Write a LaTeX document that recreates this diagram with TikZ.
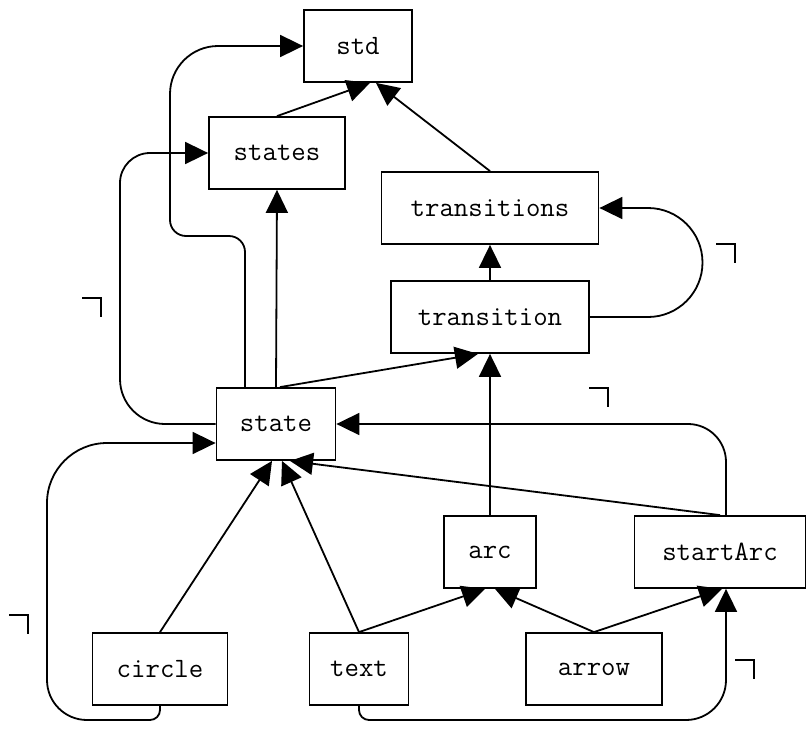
\documentclass[tikz,border=0pt]{standalone}
\usetikzlibrary{arrows.meta}

\tikzset{
  cls/.style={draw, line width=1.8pt, minimum height=72pt, inner sep=0pt,
    font=\ttfamily\fontsize{28}{32}\selectfont},
  dep/.style={line width=1.8pt, -{Triangle[length=23pt,width=22pt]}},
}
% little corner ticks left over from empty labels
\newcommand\notch[1]{\draw[line width=1.8pt] (#1) -- ++(19,0) -- ++(0,19);}

\begin{document}
\begin{tikzpicture}[x=1pt,y=-1pt]
  \useasboundingbox (0,0) rectangle (806,734);

  \node[cls, minimum width=108pt] (std)         at (358,46)  {std};
  \node[cls, minimum width=136pt] (states)      at (277,153) {states};
  \node[cls, minimum width=217pt] (transitions) at (490,208) {transitions};
  \node[cls, minimum width=198pt] (transition)  at (490,317) {transition};
  \node[cls, minimum width=119pt] (state)       at (276,424) {state};
  \node[cls, minimum width=92pt]  (arc)         at (490,552) {arc};
  \node[cls, minimum width=171pt] (startArc)    at (720,552) {startArc};
  \node[cls, minimum width=135pt] (circle)      at (160,669) {circle};
  \node[cls, minimum width=99pt]  (text)        at (359,669) {text};
  \node[cls, minimum width=136pt] (arrow)       at (594,669) {arrow};

  % straight dependencies
  \draw[dep] (states.north) -- ([xshift=12pt]std.south);
  \draw[dep] (transitions.north) -- ([xshift=18pt]std.south);
  \draw[dep] (state.north) -- (states.south);
  \draw[dep] ([xshift=4pt]state.north) -- ([xshift=-12pt]transition.south);
  \draw[dep] (transition.north) -- (transitions.south);
  \draw[dep] (arc.north) -- (transition.south);
  \draw[dep] (text.north) -- ([xshift=-5pt]arc.south);
  \draw[dep] (arrow.north) -- ([xshift=5pt]arc.south);
  \draw[dep] (arrow.north) -- ([xshift=2pt]startArc.south);
  \draw[dep] (circle.north) -- ([xshift=-4pt]state.south);
  \draw[dep] (text.north) -- ([xshift=6pt]state.south);
  \draw[dep] (startArc.north) -- ([xshift=14pt]state.south);

  % routed ones
  \draw[dep, rounded corners=16pt] ([xshift=-31pt]state.north) |- (170,236)
    -- (170,150) [rounded corners=48pt] -- (170,46) -- (std.west);
  \draw[dep, rounded corners=45pt] (state.west) -- (120,424)
    -- (120,300) [rounded corners=30pt] -- (120,153) -- (states.west);
  \draw[dep] (transition.east) -- (648,317)
    arc[start angle=-90, end angle=90, radius=54.5pt] -- (transitions.east);
  \draw[dep, rounded corners=38pt] ([xshift=6pt]startArc.north) |- (state.east);
  \draw[dep, rounded corners=10pt] (circle.south) -- (160,720) -- (110,720)
    [rounded corners=40pt] -- (47,720) -- (47,540)
    [rounded corners=60pt] -- (47,443) -- ([yshift=-19pt]state.west);
  \draw[dep, rounded corners=10pt] (text.south) -- (359,720) -- (520,720)
    [rounded corners=40pt] -- (726,720) -- ([xshift=6pt]startArc.south);

  \notch{82,298}
  \notch{589,388}
  \notch{716,244}
  \notch{9,615}
  \notch{735,660}
\end{tikzpicture}
\end{document}
